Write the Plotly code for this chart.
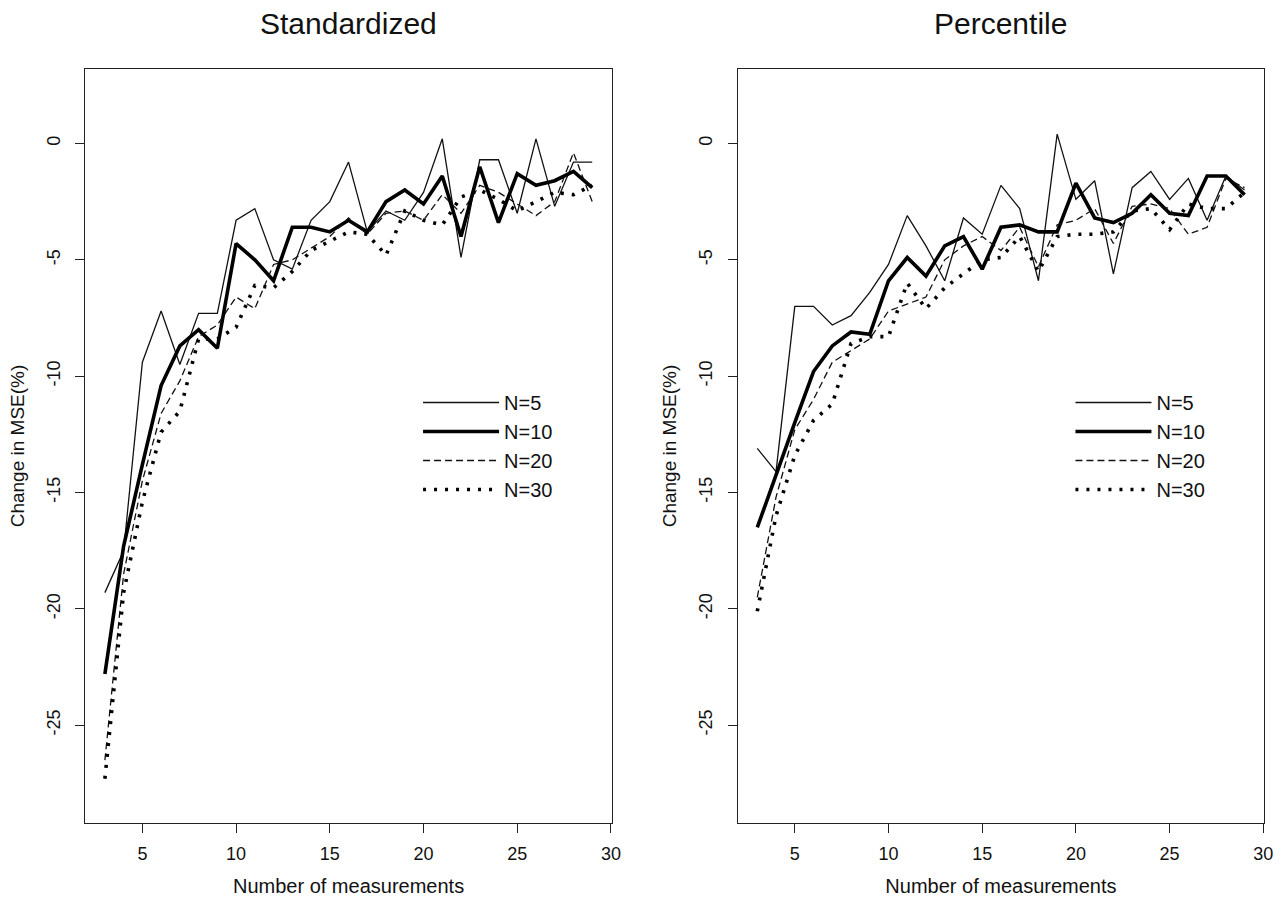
import plotly.graph_objects as go

x_vals = list(range(3, 30))

std_n5 = [-19.3, -17.5, -9.4, -7.2, -9.5, -7.3, -7.3, -3.3, -2.8, -5.0, -5.4, -3.3, -2.5, -0.8,
          -3.8, -2.9, -3.3, -2.1, 0.2, -4.9, -0.7, -0.7, -3.0, 0.2, -2.7, -0.8, -0.8]
std_n10 = [-22.8, -17.3, -13.8, -10.4, -8.7, -8.0, -8.8, -4.3, -5.0, -5.9, -3.6, -3.6, -3.8, -3.3,
           -3.8, -2.5, -2.0, -2.6, -1.4, -4.0, -1.0, -3.4, -1.3, -1.8, -1.6, -1.2, -1.9]
std_n20 = [-26.5, -18.5, -14.5, -11.6, -10.2, -8.3, -7.8, -6.6, -7.1, -5.2, -5.0, -4.5, -4.0, -3.2,
           -3.9, -3.0, -2.9, -3.3, -2.2, -3.0, -1.8, -2.1, -2.6, -3.1, -2.5, -0.4, -2.5]
std_n30 = [-27.3, -19.3, -15.4, -12.4, -11.5, -8.4, -8.4, -7.9, -6.1, -6.2, -5.5, -4.6, -4.2, -3.8,
           -3.9, -4.8, -2.9, -3.3, -3.5, -2.3, -2.0, -2.4, -2.9, -2.5, -2.1, -2.2, -1.8]

pct_n5 = [-13.1, -14.1, -7.0, -7.0, -7.8, -7.4, -6.4, -5.2, -3.1, -4.4, -5.9, -3.2, -3.9, -1.8,
          -2.8, -5.9, 0.4, -2.4, -1.6, -5.6, -1.9, -1.2, -2.4, -1.5, -3.3, -1.4, -2.0]
pct_n10 = [-16.5, -14.2, -12.0, -9.8, -8.7, -8.1, -8.2, -5.9, -4.9, -5.7, -4.4, -4.0, -5.4, -3.6,
           -3.5, -3.8, -3.8, -1.7, -3.2, -3.4, -3.0, -2.2, -3.0, -3.1, -1.4, -1.4, -2.2]
pct_n20 = [-19.5, -15.2, -12.3, -11.0, -9.4, -8.9, -8.4, -7.2, -6.9, -6.6, -5.0, -4.4, -4.0, -4.6,
           -3.6, -5.3, -3.5, -3.3, -2.8, -4.3, -2.7, -2.6, -2.8, -3.9, -3.6, -1.5, -1.9]
pct_n30 = [-20.1, -16.0, -13.4, -11.9, -11.2, -8.6, -8.3, -8.3, -6.0, -7.1, -6.2, -5.6, -5.0, -4.9,
           -4.0, -5.5, -4.0, -3.9, -3.9, -3.8, -2.9, -2.8, -3.7, -2.6, -2.8, -2.8, -2.1]

series_names = ["N=5", "N=10", "N=20", "N=30"]
panel_titles = ["Standardized", "Percentile"]
x_ticks = [5, 10, 15, 20, 25, 30]
y_ticks = [0, -5, -10, -15, -20, -25]
y_tick_labels = ["0", "-5", "-10", "-15", "-20", "-25"]

styles = [
    dict(color="#111111", width=1.3, dash="solid"),
    dict(color="#000000", width=3.6, dash="solid"),
    dict(color="#111111", width=1.3, dash="7px,4px"),
    dict(color="#000000", width=3.6, dash="3px,8px"),
]

FONT = "Liberation Sans, Arial, Helvetica, sans-serif"
W, H = 1285, 904

fig = go.Figure()

panels = [
    (panel_titles[0], [std_n5, std_n10, std_n20, std_n30], "x", "y", "legend"),
    (panel_titles[1], [pct_n5, pct_n10, pct_n20, pct_n30], "x2", "y2", "legend2"),
]
for title, data, xa, ya, lg in panels:
    for name, vals, st in zip(series_names, data, styles):
        fig.add_trace(go.Scatter(
            x=x_vals, y=vals, mode="lines", name=name,
            line=dict(color=st["color"], width=st["width"], dash=st["dash"]),
            xaxis=xa, yaxis=ya, legend=lg, showlegend=True,
        ))

# plot area pixel boxes
left_box = (86, 616)
right_box = (743, 1273)
top_px, bot_px = 69, 823
ydom = [(H - bot_px) / H, (H - top_px) / H]

axis_common = dict(
    showline=True, linecolor="#222", linewidth=1.3, mirror=True,
    ticks="outside", ticklen=9, tickwidth=1.2, tickcolor="#222",
    showgrid=False, zeroline=False,
    tickfont=dict(family=FONT, size=18, color="#111"),
)
xcommon = dict(axis_common, range=[1.96, 30.04], tickvals=x_ticks, ticklabelstandoff=5,
               title=dict(text="Number of measurements",
                          font=dict(family=FONT, size=20, color="#111"), standoff=16))
ycommon = dict(axis_common, range=[-29.2, 3.2], tickvals=y_ticks, ticktext=y_tick_labels,
               tickangle=-90, ticklabelstandoff=8,
               title=dict(text="Change in MSE(%)",
                          font=dict(family=FONT, size=19, color="#111"), standoff=14))

legend_common = dict(xanchor="left", yanchor="top", bgcolor="rgba(0,0,0,0)", borderwidth=0,
                     font=dict(family=FONT, size=20, color="#111"), itemwidth=76,
                     tracegroupgap=0)

fig.update_layout(
    width=W, height=H, autosize=False,
    margin=dict(l=0, r=0, t=0, b=0),
    paper_bgcolor="white", plot_bgcolor="white",
    font=dict(family=FONT, color="#111"),
    xaxis=dict(xcommon, domain=[left_box[0] / W, left_box[1] / W], anchor="y"),
    yaxis=dict(ycommon, domain=ydom, anchor="x"),
    xaxis2=dict(xcommon, domain=[right_box[0] / W, right_box[1] / W], anchor="y2"),
    yaxis2=dict(ycommon, domain=ydom, anchor="x2"),
    legend=dict(legend_common, x=421 / W, y=(H - 383) / H),
    legend2=dict(legend_common, x=1078 / W, y=(H - 383) / H),
    annotations=[
        dict(text=panel_titles[0], x=(left_box[0] + left_box[1]) / 2 / W, y=1 - 23 / H,
             xref="paper", yref="paper", showarrow=False, xanchor="center", yanchor="middle",
             font=dict(family=FONT, size=30, color="#111")),
        dict(text=panel_titles[1], x=(right_box[0] + right_box[1]) / 2 / W, y=1 - 23 / H,
             xref="paper", yref="paper", showarrow=False, xanchor="center", yanchor="middle",
             font=dict(family=FONT, size=30, color="#111")),
    ],
)

fig.write_html(
    "out.html",
    config={"displayModeBar": False},
    post_script="document.body.style.margin='0';document.body.style.overflow='hidden';",
)
